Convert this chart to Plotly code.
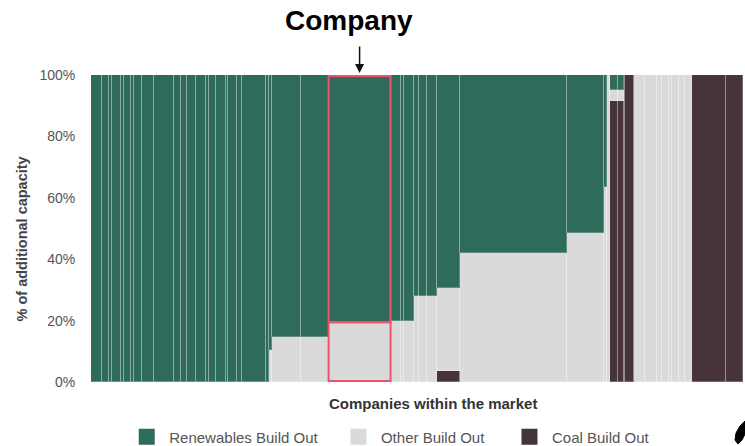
import numpy as np
import plotly.graph_objects as go

# ---- data: one entry per company (capacity width, shares in %) ----
capacity = [11.5, 6.5, 3.5, 8.5, 3.5, 6.5, 3.5, 8, 11.5, 20, 7, 6.5, 8.5, 10, 3.5, 6.5, 10, 2, 9.5, 5,
            23.5, 3.5, 3, 28.5, 28, 62, 10, 3.5, 9.5, 5, 9, 10, 23, 106.5, 37, 3, 3, 8.5, 5.5, 1.5, 9,
            11, 11.5, 5, 7, 3.5, 6.5, 6.5, 6.5, 34, 17.5]
renewables = [100]*22 + [89.6, 85.5, 85.5, 80.5, 80, 80, 80, 72, 72, 72, 69.5, 58, 51.5, 36.5, 0,
              5, 5, 0, 0] + [0]*8 + [0, 0]
other = [0]*22 + [10.4, 14.5, 14.5, 19.5, 20, 20, 20, 28, 28, 28, 27, 42, 48.5, 63.5, 100,
         3.5, 3.5, 0, 0] + [100]*8 + [0, 0]
coal = [0]*22 + [0, 0, 0, 0, 0, 0, 0, 0, 0, 0, 3.5, 0, 0, 0, 0,
        91.5, 91.5, 100, 100] + [0]*8 + [100, 100]
company_index = 25
series_names = ["Renewables Build Out", "Other Build Out", "Coal Build Out"]
y_ticks = [0, 20, 40, 60, 80, 100]
y_tick_labels = ["0%", "20%", "40%", "60%", "80%", "100%"]

GREEN = "#2f6b5a"
GREY = "#dadada"
COAL = "#46333b"
RED = "#f2506c"
FONT = "Liberation Sans, Arial, sans-serif"

w = np.array(capacity, dtype=float)
right = np.cumsum(w)
left = right - w
centers = left + w / 2
total = right[-1]

fig = go.Figure()
sep = dict(color="rgba(255,255,255,0.25)", width=1)
for vals, color, name in [(coal, COAL, series_names[2]), (other, GREY, series_names[1]),
                          (renewables, GREEN, series_names[0])]:
    fig.add_trace(go.Bar(x=centers, y=vals, width=w, marker=dict(color=color, line=sep),
                         name=name, showlegend=False, hoverinfo="skip"))

# legend entries, each in its own legend so positions can match
legend_pos = [0.051, 0.3757, 0.638]
for i, (name, color) in enumerate(zip(series_names, [GREEN, GREY, COAL])):
    lg = "legend" if i == 0 else f"legend{i+1}"
    fig.add_trace(go.Scatter(x=[None], y=[None], mode="markers", name=name,
                             marker=dict(symbol="square", size=16, color=color),
                             legend=lg, showlegend=True))

legend_style = dict(orientation="h", yanchor="middle", y=-0.179, xanchor="left",
                    font=dict(family=FONT, size=15, color="#555555"),
                    bgcolor="rgba(0,0,0,0)", itemsizing="trace", itemwidth=35)
layout_legends = {}
for i, x in enumerate(legend_pos):
    key = "legend" if i == 0 else f"legend{i+1}"
    layout_legends[key] = dict(legend_style, x=x)

# highlight box around the company (inset by ~1px so the border isn't clipped)
ci = company_index
inset = 0.35
split = other[ci] + coal[ci]
fig.add_shape(type="rect", x0=left[ci], x1=right[ci], y0=split, y1=100 - inset,
              line=dict(color=RED, width=2))
fig.add_shape(type="rect", x0=left[ci], x1=right[ci], y0=inset, y1=split,
              line=dict(color=RED, width=2))

fig.add_annotation(x=centers[ci], y=100, xref="x", yref="y", text="", showarrow=True,
                   ax=0, ay=-30, arrowhead=2, arrowsize=1.2, arrowwidth=1.5,
                   arrowcolor="#111111", standoff=2)
fig.add_annotation(x=(349 - 91) / 652, y=1 + (75 - 21) / 307, xref="paper", yref="paper",
                   xanchor="center", yanchor="middle",
                   text="<b>Company</b>", showarrow=False,
                   font=dict(family=FONT, size=28, color="#000000"))
fig.add_annotation(x=(433 - 91) / 652, y=(382 - 403) / 307, xref="paper", yref="paper",
                   xanchor="center", yanchor="middle",
                   text="<b>Companies within the market</b>", showarrow=False,
                   font=dict(family=FONT, size=15, color="#333333"))
fig.add_annotation(x=(21.5 - 91) / 652, y=(382 - 239) / 307, xref="paper", yref="paper",
                   xanchor="center", yanchor="middle",
                   text="<b>% of additional capacity</b>", showarrow=False, textangle=-90,
                   font=dict(family=FONT, size=14.5, color="#444444"))

def px(xp, yp):
    return (xp - 91) / 652, (382 - yp) / 307

pts = [px(745, 421), px(740, 426), px(736, 433), px(735, 440), px(738, 444), px(742, 440), px(745, 434)]
path = "M " + " L ".join(f"{a:.4f},{b:.4f}" for a, b in pts) + " Z"
fig.add_shape(type="path", path=path, xref="paper", yref="paper",
              fillcolor="#000000", line=dict(color="#000000", width=1))

fig.update_layout(
    width=745, height=446,
    margin=dict(l=91, r=2, t=75, b=64, autoexpand=False),
    barmode="stack", bargap=0,
    plot_bgcolor="white", paper_bgcolor="white",
    xaxis=dict(range=[0, total], showticklabels=False, showgrid=False, zeroline=False,
               showline=False, ticks=""),
    yaxis=dict(range=[0, 100], tickmode="array", tickvals=y_ticks, ticktext=y_tick_labels,
               showgrid=False, zeroline=False, showline=False, ticks="outside", ticklen=12,
               tickcolor="rgba(0,0,0,0)",
               tickfont=dict(family=FONT, size=14, color="#555555")),
    **layout_legends,
)

fig.write_html("out.html", config={"displayModeBar": False},
               post_script="document.body.style.margin='0';document.body.style.overflow='hidden';")
